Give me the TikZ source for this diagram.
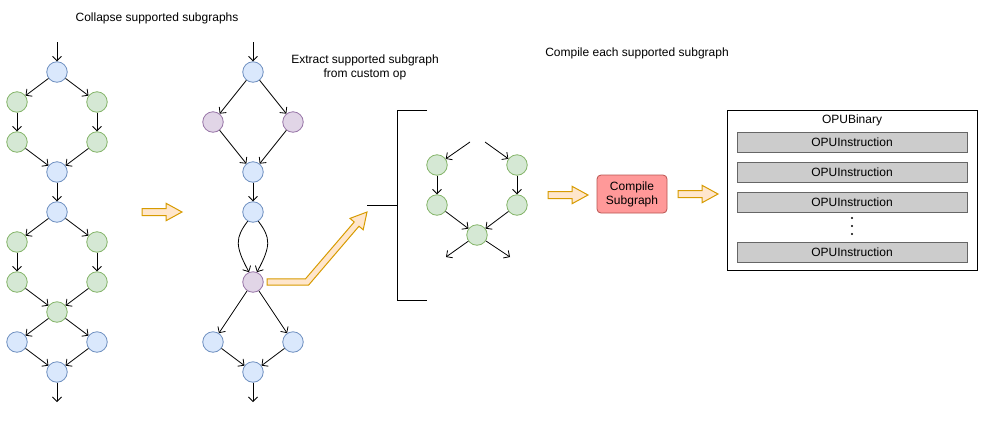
\documentclass[tikz,border=0pt]{standalone}
\usepackage{fontspec}
\setmainfont{Liberation Sans}
\usetikzlibrary{arrows.meta,positioning}

\definecolor{bluefill}{HTML}{DAE8FC}
\definecolor{blueline}{HTML}{6C8EBF}
\definecolor{greenfill}{HTML}{D5E8D4}
\definecolor{greenline}{HTML}{82B366}
\definecolor{purplefill}{HTML}{E1D5E7}
\definecolor{purpleline}{HTML}{9673A6}
\definecolor{orangefill}{HTML}{FFE6CC}
\definecolor{orangeline}{HTML}{D79B00}
\definecolor{redfill}{HTML}{FF9999}
\definecolor{redline}{HTML}{B85450}
\definecolor{grayfill}{HTML}{CCCCCC}
\definecolor{grayline}{HTML}{666666}

\begin{document}
\begin{tikzpicture}[x=1pt, y=-1pt]
	\tikzstyle{op} = [
		circle, line width=0.8pt, minimum size=20.5pt, inner sep=0pt
	]
	\tikzstyle{op_blue} = [
		op, draw=blueline, fill=bluefill
	]
	\tikzstyle{op_green} = [
		op, draw=greenline, fill=greenfill
	]
	\tikzstyle{op_purple} = [
		op, draw=purpleline, fill=purplefill
	]
	\tikzstyle{caption} = [
		font=\fontsize{12}{14}\selectfont, align=center, inner sep=0pt
	]
	\tikzstyle{conn} = [
		-{Straight Barb[length=4.5pt, width=9pt]}, line width=0.8pt
	]
	\tikzstyle{fat_arrow} = [
		draw=orangeline, fill=orangefill, line width=1pt
	]
	\tikzstyle{instr} = [
		rectangle, draw=grayline, fill=grayfill, line width=0.8pt,
		minimum width=230pt, minimum height=20pt, inner sep=0pt,
		font=\fontsize{12}{14}\selectfont
	]

	\useasboundingbox (0,0) rectangle (991,424);

	% Captions
	\node (Title_collapse) [caption] at (157,18) {Collapse supported subgraphs};
	\node (Title_extract) [caption] at (365,67) {Extract supported subgraph\\from custom op};
	\node (Title_compile) [caption] at (637,53) {Compile each supported subgraph};

	% Original graph
	\coordinate (L_in) at (57,42);
	\node (L_1) [op_blue] at (57,72) {};
	\node (L_2) [op_green] at (17,102) {};
	\node (L_3) [op_green] at (97,102) {};
	\node (L_4) [op_green] at (17,142) {};
	\node (L_5) [op_green] at (97,142) {};
	\node (L_6) [op_blue] at (57,172) {};
	\node (L_7) [op_blue] at (57,212) {};
	\node (L_8) [op_green] at (17,242) {};
	\node (L_9) [op_green] at (97,242) {};
	\node (L_10) [op_green] at (17,282) {};
	\node (L_11) [op_green] at (97,282) {};
	\node (L_12) [op_green] at (57,312) {};
	\node (L_13) [op_blue] at (17,342) {};
	\node (L_14) [op_blue] at (97,342) {};
	\node (L_15) [op_blue] at (57,372) {};
	\coordinate (L_out) at (57,402);

	\draw[conn] (L_in) -- (L_1);
	\draw[conn] (L_1) -- (L_2);
	\draw[conn] (L_1) -- (L_3);
	\draw[conn] (L_2) -- (L_4);
	\draw[conn] (L_3) -- (L_5);
	\draw[conn] (L_4) -- (L_6);
	\draw[conn] (L_5) -- (L_6);
	\draw[conn] (L_6) -- (L_7);
	\draw[conn] (L_7) -- (L_8);
	\draw[conn] (L_7) -- (L_9);
	\draw[conn] (L_8) -- (L_10);
	\draw[conn] (L_9) -- (L_11);
	\draw[conn] (L_10) -- (L_12);
	\draw[conn] (L_11) -- (L_12);
	\draw[conn] (L_12) -- (L_13);
	\draw[conn] (L_12) -- (L_14);
	\draw[conn] (L_13) -- (L_15);
	\draw[conn] (L_14) -- (L_15);
	\draw[conn] (L_15) -- (L_out);

	% Collapsed graph
	\coordinate (M_in) at (253,42);
	\node (M_1) [op_blue] at (253,72) {};
	\node (M_2) [op_purple] at (213,122) {};
	\node (M_3) [op_purple] at (293,122) {};
	\node (M_4) [op_blue] at (253,172) {};
	\node (M_5) [op_blue] at (253,212) {};
	\node (M_6) [op_purple] at (253,282) {};
	\node (M_7) [op_blue] at (213,342) {};
	\node (M_8) [op_blue] at (293,342) {};
	\node (M_9) [op_blue] at (253,372) {};
	\coordinate (M_out) at (253,402);

	\draw[conn] (M_in) -- (M_1);
	\draw[conn] (M_1) -- (M_2);
	\draw[conn] (M_1) -- (M_3);
	\draw[conn] (M_2) -- (M_4);
	\draw[conn] (M_3) -- (M_4);
	\draw[conn] (M_4) -- (M_5);
	\draw[conn] (M_5.240) .. controls (235,238) and (235,246) .. (M_6.112);
	\draw[conn] (M_5.300) .. controls (271,238) and (271,246) .. (M_6.68);
	\draw[conn] (M_6) -- (M_7);
	\draw[conn] (M_6) -- (M_8);
	\draw[conn] (M_7) -- (M_9);
	\draw[conn] (M_8) -- (M_9);
	\draw[conn] (M_9) -- (M_out);

	% Extracted subgraph
	\draw[line width=1pt] (427,110) -- (397,110) -- (397,300) -- (427,300);
	\draw[line width=1pt] (367,205) -- (397,205);

	\coordinate (S_in1) at (470,142);
	\coordinate (S_in2) at (485,142);
	\node (S_1) [op_green] at (437,165) {};
	\node (S_2) [op_green] at (517,165) {};
	\node (S_3) [op_green] at (437,205) {};
	\node (S_4) [op_green] at (517,205) {};
	\node (S_5) [op_green] at (477,235) {};
	\coordinate (S_out1) at (446,257);
	\coordinate (S_out2) at (510,257);

	\draw[conn] (S_in1) -- (S_1);
	\draw[conn] (S_in2) -- (S_2);
	\draw[conn] (S_1) -- (S_3);
	\draw[conn] (S_2) -- (S_4);
	\draw[conn] (S_3) -- (S_5);
	\draw[conn] (S_4) -- (S_5);
	\draw[conn] (S_5) -- (S_out1);
	\draw[conn] (S_5) -- (S_out2);

	% Compile
	\node (Compile) [caption, draw=redline, fill=redfill, line width=0.8pt, rounded corners=4pt,
		minimum width=70pt, minimum height=38pt] at (632,194) {Compile\\Subgraph};

	% Binary
	\node (Binary) [draw, line width=0.9pt, minimum width=250pt, minimum height=160pt] at (852,190) {};
	\node (Binary_caption) [caption] at (852,120) {OPUBinary};
	\node (Instr_1) [instr] at (852,142) {OPUInstruction};
	\node (Instr_2) [instr, below=9.2pt of Instr_1] {OPUInstruction};
	\node (Instr_3) [instr, below=9.2pt of Instr_2] {OPUInstruction};
	\node (Instr_4) [instr, below=29.2pt of Instr_3] {OPUInstruction};
	\fill (852,218) circle (1.2) (852,226) circle (1.2) (852,234) circle (1.2);

	% Block arrows
	\foreach \x/\y in {142/212, 548/195, 678/194}
		\draw[fat_arrow] (\x,{\y-3.5}) -- ({\x+24},{\y-3.5}) -- ({\x+24},{\y-8.75}) -- ({\x+40},\y)
			-- ({\x+24},{\y+8.75}) -- ({\x+24},{\y+3.5}) -- (\x,{\y+3.5}) -- cycle;
	\draw[fat_arrow] (267,278.8) -- (305.5,278.8) -- (354.2,222.0) -- (350.0,218.4) -- (367,212)
		-- (363.2,229.8) -- (359.0,226.2) -- (308.5,285.2) -- (267,285.2) -- cycle;
\end{tikzpicture}
\end{document}
